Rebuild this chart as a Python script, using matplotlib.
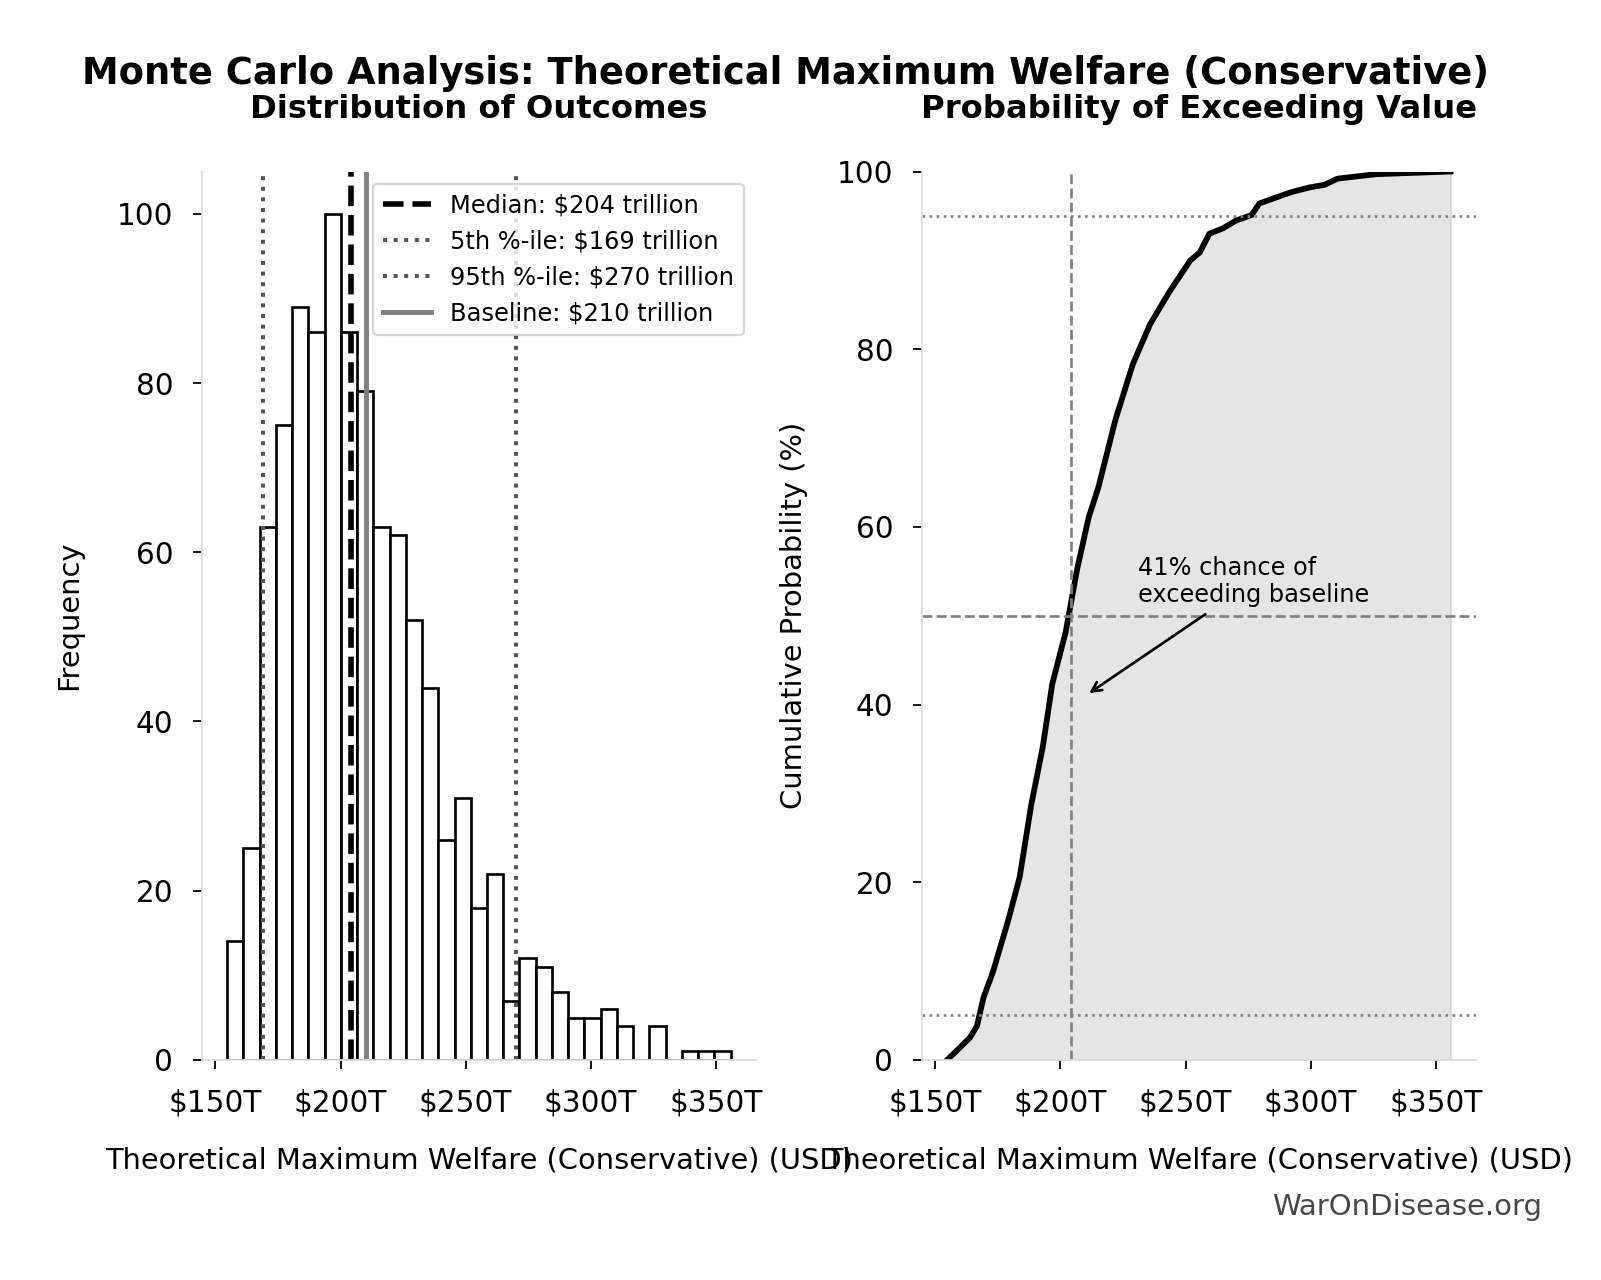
import numpy as np
import matplotlib
matplotlib.use("Agg")
import matplotlib.pyplot as plt

# ---------------- data ----------------
bin_min = 154.7   # $T
bin_max = 355.9   # $T
counts = [14, 25, 63, 75, 89, 86, 100, 86, 79, 63, 62, 52, 44, 26, 31, 18, 22,
          7, 12, 11, 8, 5, 5, 6, 4, 0, 4, 0, 1, 1, 1]

median_val = 204
p5_val = 169
p95_val = 270
baseline_val = 210
exceed_pct = 41

cdf_x = [154.7, 157.7, 163.8, 166.6, 169.2, 173.0, 179.1, 183.7, 188.3, 192.9,
         196.7, 202.1, 206.7, 211.3, 215.1, 222.0, 228.9, 235.8, 243.4, 251.9,
         255.7, 259.5, 264.9, 270.3, 276.4, 279.5, 286.4, 292.5, 299.4, 305.5,
         310.8, 326.2, 355.9]
cdf_y = [0.0, 0.8, 2.5, 3.8, 7.0, 9.9, 15.7, 20.6, 28.7, 35.2,
         42.3, 48.2, 55.3, 61.1, 64.4, 72.1, 78.3, 82.8, 86.4, 90.0,
         90.9, 93.0, 93.6, 94.5, 95.1, 96.4, 97.1, 97.7, 98.2, 98.5,
         99.2, 99.7, 100.0]

xticks = [150, 200, 250, 300, 350]
xlabel = "Theoretical Maximum Welfare (Conservative) (USD)"

# ---------------- figure ----------------
fig = plt.figure(figsize=(1601 / 160, 1280 / 160), dpi=160)
ax1 = fig.add_axes([0.1262, 0.172, 0.3458, 0.694])
ax2 = fig.add_axes([0.5759, 0.172, 0.3458, 0.694])

edges = np.linspace(bin_min, bin_max, len(counts) + 1)
centers = (edges[:-1] + edges[1:]) / 2
ax1.hist(centers, bins=edges, weights=counts, color="white",
         edgecolor="black", linewidth=1.2)

ax1.axvline(median_val, color="black", linestyle="--", linewidth=2.5,
            label=f"Median: ${median_val} trillion")
ax1.axvline(p5_val, color="#555555", linestyle=":", linewidth=1.8,
            label=f"5th %-ile: ${p5_val} trillion")
ax1.axvline(p95_val, color="#555555", linestyle=":", linewidth=1.8,
            label=f"95th %-ile: ${p95_val} trillion")
ax1.axvline(baseline_val, color="gray", linestyle="-", linewidth=2.2,
            label=f"Baseline: ${baseline_val} trillion")

ax1.set_title("Distribution of Outcomes", fontsize=14.5, fontweight="bold", pad=24)
ax1.set_ylabel("Frequency", fontsize=13, labelpad=15)
ax1.set_xlabel(xlabel, fontsize=13, labelpad=13)
ax1.legend(loc="upper right", fontsize=10.85)

# CDF
ax2.plot(cdf_x, cdf_y, color="black", linewidth=2.6)
ax2.fill_between(cdf_x, cdf_y, color="gray", alpha=0.2)
ax2.axvline(median_val, color="gray", linestyle="--", linewidth=1.2)
ax2.axhline(50, color="gray", linestyle="--", linewidth=1.2)
ax2.axhline(5, color="gray", linestyle=":", linewidth=1.2)
ax2.axhline(95, color="gray", linestyle=":", linewidth=1.2)
ax2.set_ylim(0, 100)
ax2.annotate(f"{exceed_pct}% chance of\nexceeding baseline",
             xy=(baseline_val, exceed_pct), xytext=(231, 51.5),
             fontsize=10.8,
             arrowprops=dict(arrowstyle="->", color="black", lw=1.2))
ax2.set_title("Probability of Exceeding Value", fontsize=14.5, fontweight="bold", pad=24)
ax2.set_ylabel("Cumulative Probability (%)", fontsize=13, labelpad=13)
ax2.set_xlabel(xlabel, fontsize=13, labelpad=13)

for ax in (ax1, ax2):
    ax.set_xticks(xticks)
    ax.set_xticklabels([f"${t}T" for t in xticks])
    ax.tick_params(labelsize=13.3, pad=9, length=4)
    for s in ("top", "right"):
        ax.spines[s].set_visible(False)
    for s in ("left", "bottom"):
        ax.spines[s].set_color("#dddddd")

fig.suptitle("Monte Carlo Analysis: Theoretical Maximum Welfare (Conservative)",
             fontsize=16.6, fontweight="bold", x=0.4904, y=0.957)
fig.text(0.963, 0.0572, "WarOnDisease.org", ha="right", va="center",
         fontsize=13.1, color="#333333", alpha=0.9)

fig.savefig("out.png", dpi=160)
